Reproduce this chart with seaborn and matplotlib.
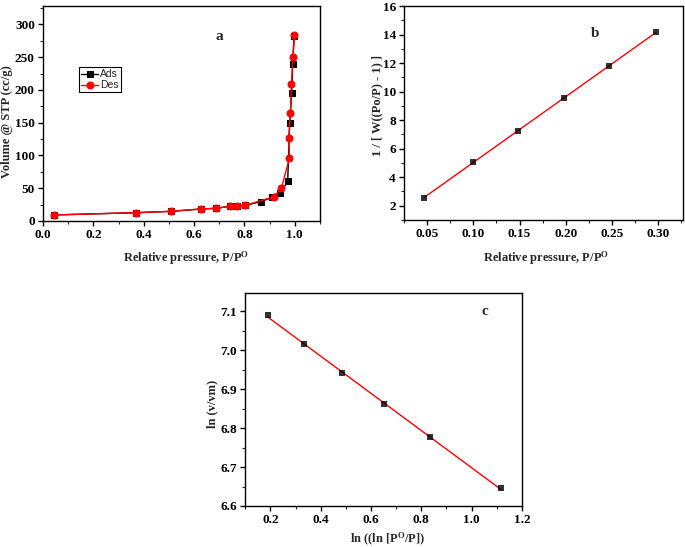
import numpy as np
import matplotlib
matplotlib.use("Agg")
import matplotlib.pyplot as plt
from matplotlib.ticker import MultipleLocator, FormatStrFormatter
import seaborn as sns

# panel a - N2 isotherm
ads_p = [0.044, 0.370, 0.507, 0.628, 0.687, 0.742, 0.772, 0.804, 0.865, 0.910,
         0.943, 0.972, 0.980, 0.988, 0.992, 0.997]
ads_v = [9.2, 12.7, 14.7, 18.3, 19.3, 22.4, 22.4, 23.9, 29.5, 36.0,
         42.0, 61.0, 149.5, 196.0, 239.0, 282.0]
des_p = [0.999, 0.993, 0.987, 0.983, 0.976, 0.979, 0.947, 0.917, 0.804, 0.772,
         0.742, 0.687, 0.628, 0.507, 0.370, 0.044]
des_v = [284.0, 250.0, 209.0, 165.0, 126.0, 96.0, 50.0, 37.0, 23.9, 22.4,
         22.4, 19.3, 18.3, 14.7, 12.7, 9.2]

# panel b - BET
bet_p = [0.047, 0.100, 0.148, 0.198, 0.247, 0.298]
bet_w = [2.57, 5.05, 7.25, 9.55, 11.80, 14.15]

# panel c - FHH
fhh_x = [0.190, 0.335, 0.483, 0.650, 0.836, 1.118]
fhh_y = [7.090, 7.015, 6.942, 6.862, 6.776, 6.645]

sns.set_style("ticks")
plt.rcParams['font.family'] = ['Liberation Serif', 'DejaVu Serif']
plt.rcParams['font.weight'] = 'bold'
plt.rcParams['axes.labelweight'] = 'bold'
plt.rcParams['mathtext.fontset'] = 'custom'
plt.rcParams['mathtext.rm'] = 'Liberation Serif:bold'
plt.rcParams['mathtext.bf'] = 'Liberation Serif:bold'
plt.rcParams['mathtext.it'] = 'Liberation Serif:bold:italic'

TICK_FS = 9.5
LABEL_FS = 9

fig = plt.figure(figsize=(6.85, 5.47), dpi=100)
ax_a = fig.add_axes([0.063, 0.596, 0.404, 0.393])
ax_b = fig.add_axes([0.590, 0.598, 0.407, 0.391])
ax_c = fig.add_axes([0.358, 0.075, 0.404, 0.390])


def style_axis(ax, xmaj, ymaj):
    for s in ax.spines.values():
        s.set_color('black')
        s.set_linewidth(1.0)
    ax.xaxis.set_major_locator(MultipleLocator(xmaj))
    ax.xaxis.set_minor_locator(MultipleLocator(xmaj / 2))
    ax.yaxis.set_major_locator(MultipleLocator(ymaj))
    ax.yaxis.set_minor_locator(MultipleLocator(ymaj / 2))
    ax.tick_params(which='major', direction='out', length=3.5, width=1,
                   labelsize=TICK_FS, colors='black', top=False, right=False, pad=2.5)
    ax.tick_params(which='minor', direction='out', length=2, width=0.8,
                   top=False, right=False)
    for lab in ax.get_xticklabels() + ax.get_yticklabels():
        lab.set_fontweight('bold')


def place_labels(ax, xlab, ylab, xpos, ypos):
    # xpos / ypos are (x, y) axes-fraction centres of the two labels
    ax.set_xlabel(xlab, fontsize=LABEL_FS)
    ax.set_ylabel(ylab, fontsize=LABEL_FS)
    ax.xaxis.set_label_coords(*xpos)
    ax.yaxis.set_label_coords(*ypos)
    ax.xaxis.label.set_va('center')
    ax.yaxis.label.set_va('center')


# (a)
sns.lineplot(x=ads_p, y=ads_v, ax=ax_a, sort=False, color='black', marker='s',
             markersize=4, markeredgecolor='black', linewidth=1, label='Ads')
sns.lineplot(x=des_p, y=des_v, ax=ax_a, sort=False, color='red', marker='o',
             markersize=5, markeredgecolor='red', linewidth=1, label='Des')
ax_a.set_xlim(0, 1.1)
ax_a.set_ylim(0, 328)
style_axis(ax_a, 0.2, 50)
ax_a.xaxis.set_major_formatter(FormatStrFormatter('%.1f'))
place_labels(ax_a, 'Relative pressure, P/P$^{\\rm O}$', 'Volume @ STP (cc/g)',
             (0.516, -0.172), (-0.13, 0.46))
ax_a.text(0.70, 281, 'a', fontsize=11, fontweight='bold', ha='center', va='center')
leg = ax_a.legend(loc='upper left', bbox_to_anchor=(0.13, 0.715), frameon=True,
                  fancybox=False, edgecolor='black', framealpha=1,
                  prop={'family': 'Liberation Sans', 'size': 7.5, 'weight': 'normal'},
                  handlelength=1.6, handletextpad=0.2, borderpad=0.2,
                  labelspacing=0.1, borderaxespad=0)
leg.get_frame().set_linewidth(0.8)

# (b)
sns.regplot(x=bet_p, y=bet_w, ax=ax_b, ci=None, marker='s',
            scatter_kws={'color': 'black', 's': 18, 'zorder': 3, 'linewidths': 0},
            line_kws={'color': 'red', 'linewidth': 1})
ax_b.set_xlim(0.025, 0.327)
ax_b.set_ylim(1, 16)
style_axis(ax_b, 0.05, 2)
ax_b.xaxis.set_major_formatter(FormatStrFormatter('%.2f'))
place_labels(ax_b, 'Relative pressure, P/P$^{\\rm O}$', '1 / [ W((Po/P) - 1) ]',
             (0.51, -0.178), (-0.098, 0.537))
ax_b.text(0.232, 14.1, 'b', fontsize=11, fontweight='bold', ha='center', va='center')

# (c)
sns.regplot(x=fhh_x, y=fhh_y, ax=ax_c, ci=None, marker='s',
            scatter_kws={'color': 'black', 's': 18, 'zorder': 3, 'linewidths': 0},
            line_kws={'color': 'red', 'linewidth': 1})
ax_c.set_xlim(0.1, 1.2)
ax_c.set_ylim(6.6, 7.148)
style_axis(ax_c, 0.2, 0.1)
ax_c.xaxis.set_major_formatter(FormatStrFormatter('%.1f'))
ax_c.yaxis.set_major_formatter(FormatStrFormatter('%.1f'))
place_labels(ax_c, 'ln ((ln [P$^{\\rm O}$/P])', 'ln (v/vm)',
             (0.514, -0.155), (-0.118, 0.476))
ax_c.text(1.052, 7.1, 'c', fontsize=11, fontweight='bold', ha='center', va='center')

fig.savefig('out.png', dpi=100)
